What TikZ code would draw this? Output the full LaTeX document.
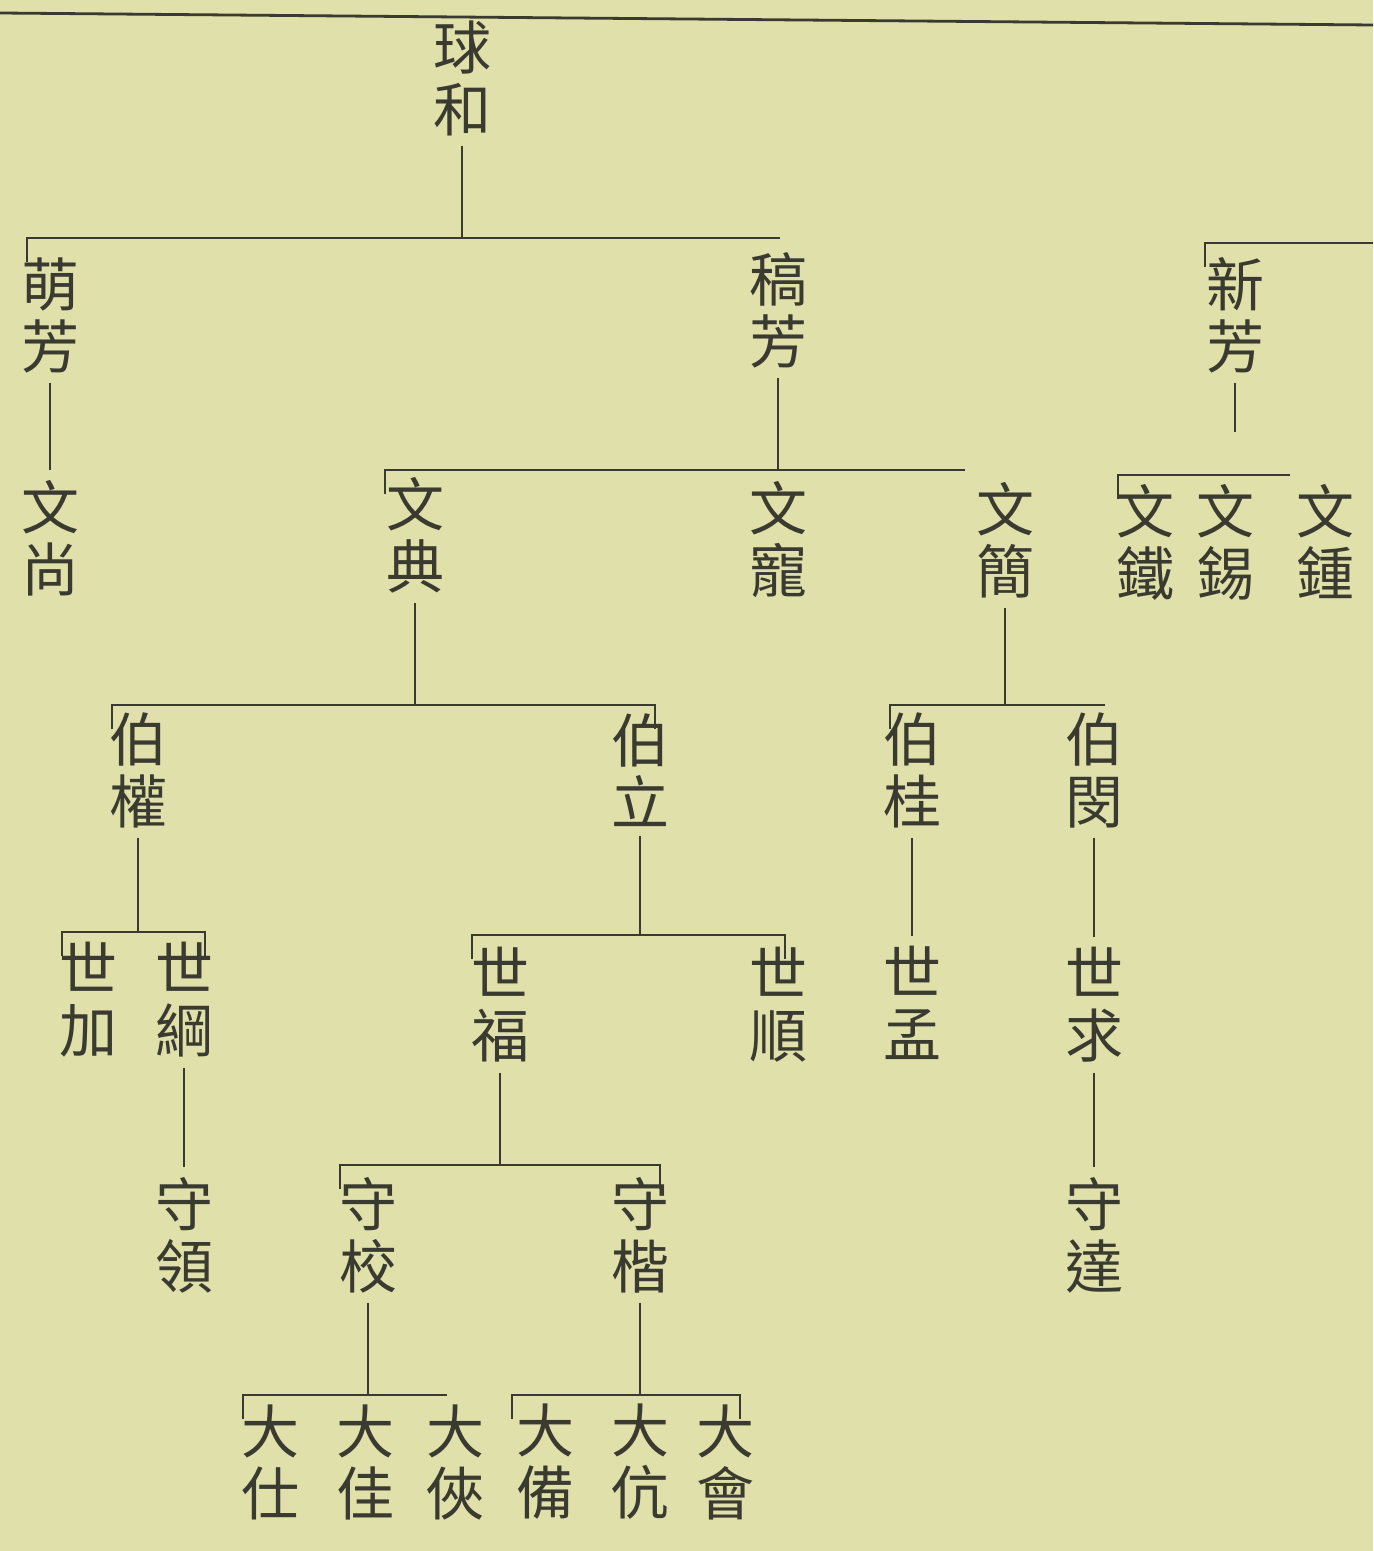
\documentclass[tikz,border=0pt]{standalone}
\usepackage{fontspec}
\newfontfamily\cjk{Noto Sans CJK TC}
\definecolor{paper}{RGB}{223,224,170}
\definecolor{ink}{RGB}{58,58,48}
\tikzset{
  nm/.style={inner sep=0pt, outer sep=5pt, align=center, text=ink,
    font=\cjk\fontsize{29pt}{31pt}\selectfont},
  ln/.style={draw=ink, line width=1.4pt}
}
\begin{document}
\begin{tikzpicture}[x=0.5pt,y=-0.5pt]
\fill[paper] (0,0) rectangle (1373,1551);
\useasboundingbox (0,0) rectangle (1373,1551);
% page rule
\coordinate (R1) at (0,13);
\coordinate (R2) at (1373,25);
\draw[ln] (R1) -- (R2);
% nodes
\node[nm] (t) at (462,78) {球\\和};
\node[nm] (n1) at (50,315) {萌\\芳};
\node[nm] (n2) at (778,310) {稿\\芳};
\node[nm] (n3) at (1235,315) {新\\芳};
\node[nm] (w1) at (50,538) {文\\尚};
\node[nm] (w2) at (415,535) {文\\典};
\node[nm] (w3) at (778,540) {文\\寵};
\node[nm] (w4) at (1005,540) {文\\簡};
\node[nm] (w5) at (1145,542) {文\\鐵};
\node[nm] (w6) at (1225,542) {文\\錫};
\node[nm] (w7) at (1325,542) {文\\鍾};
\node[nm] (b1) at (138,770) {伯\\權};
\node[nm] (b2) at (640,770) {伯\\立};
\node[nm] (b3) at (912,770) {伯\\桂};
\node[nm] (b4) at (1094,770) {伯\\閔};
\node[nm] (s1) at (88,1000) {世\\加};
\node[nm] (s2) at (184,1000) {世\\綱};
\node[nm] (s3) at (500,1005) {世\\福};
\node[nm] (s4) at (778,1005) {世\\順};
\node[nm] (s5) at (912,1003) {世\\孟};
\node[nm] (s6) at (1094,1005) {世\\求};
\node[nm] (h1) at (184,1235) {守\\領};
\node[nm] (h2) at (368,1235) {守\\校};
\node[nm] (h3) at (640,1235) {守\\楷};
\node[nm] (h4) at (1094,1235) {守\\達};
\node[nm] (d1) at (270,1462) {大\\仕};
\node[nm] (d2) at (365,1462) {大\\佳};
\node[nm] (d3) at (455,1462) {大\\俠};
\node[nm] (d4) at (545,1462) {大\\備};
\node[nm] (d5) at (640,1462) {大\\伉};
\node[nm] (d6) at (725,1462) {大\\會};
% bus coordinates
\coordinate (A1) at (27,238);  \coordinate (A2) at (780,238);
\coordinate (N1) at (1205,243); \coordinate (N2) at (1373,243);
\coordinate (B1) at (385,470); \coordinate (B2) at (965,470);
\coordinate (C1) at (1118,475); \coordinate (C2) at (1290,475);
\coordinate (N3) at (1235,432);
\coordinate (D1) at (112,705); \coordinate (D2) at (655,705);
\coordinate (E1) at (890,705); \coordinate (E2) at (1105,705);
\coordinate (F1) at (62,932); \coordinate (F2) at (205,932);
\coordinate (G1) at (472,935); \coordinate (G2) at (785,935);
\coordinate (H1) at (340,1165); \coordinate (H2) at (660,1165);
\coordinate (I1) at (243,1395); \coordinate (I2) at (447,1395);
\coordinate (J1) at (512,1395); \coordinate (J2) at (740,1395);
% generation 1
\draw[ln] (t.south) -- (t.south |- A1);
\draw[ln] ([yshift=-12]A1) -- (A1) -- (A2);
\draw[ln] ([yshift=-12]N1) -- (N1) -- (N2);
\draw[ln] (n1.south) -- (w1.north);
% 稿芳
\draw[ln] (n2.south) -- (n2.south |- B1);
\draw[ln] ([yshift=-12]B1) -- (B1) -- (B2);
% 新芳
\draw[ln] (n3.south) -- (N3);
\draw[ln] ([yshift=-12]C1) -- (C1) -- (C2);
% 文典
\draw[ln] (w2.south) -- (w2.south |- D1);
\draw[ln] ([yshift=-12]D1) -- (D1) -- (D2) -- ([yshift=-12]D2);
% 文簡
\draw[ln] (w4.south) -- (w4.south |- E1);
\draw[ln] ([yshift=-12]E1) -- (E1) -- (E2);
% 伯權
\draw[ln] (b1.south) -- (b1.south |- F1);
\draw[ln] ([yshift=-12]F1) -- (F1) -- (F2) -- ([yshift=-12]F2);
\draw[ln] (s2.south) -- (h1.north);
% 伯立
\draw[ln] (b2.south) -- (b2.south |- G1);
\draw[ln] ([yshift=-12]G1) -- (G1) -- (G2) -- ([yshift=-12]G2);
% 世福
\draw[ln] (s3.south) -- (s3.south |- H1);
\draw[ln] ([yshift=-12]H1) -- (H1) -- (H2) -- ([yshift=-12]H2);
% 守校, 守楷
\draw[ln] (h2.south) -- (h2.south |- I1);
\draw[ln] ([yshift=-12]I1) -- (I1) -- (I2);
\draw[ln] (h3.south) -- (h3.south |- J1);
\draw[ln] ([yshift=-12]J1) -- (J1) -- (J2) -- ([yshift=-12]J2);
% 伯桂, 伯閔
\draw[ln] (b3.south) -- (s5.north);
\draw[ln] (b4.south) -- (s6.north);
\draw[ln] (s6.south) -- (h4.north);
\end{tikzpicture}
\end{document}
